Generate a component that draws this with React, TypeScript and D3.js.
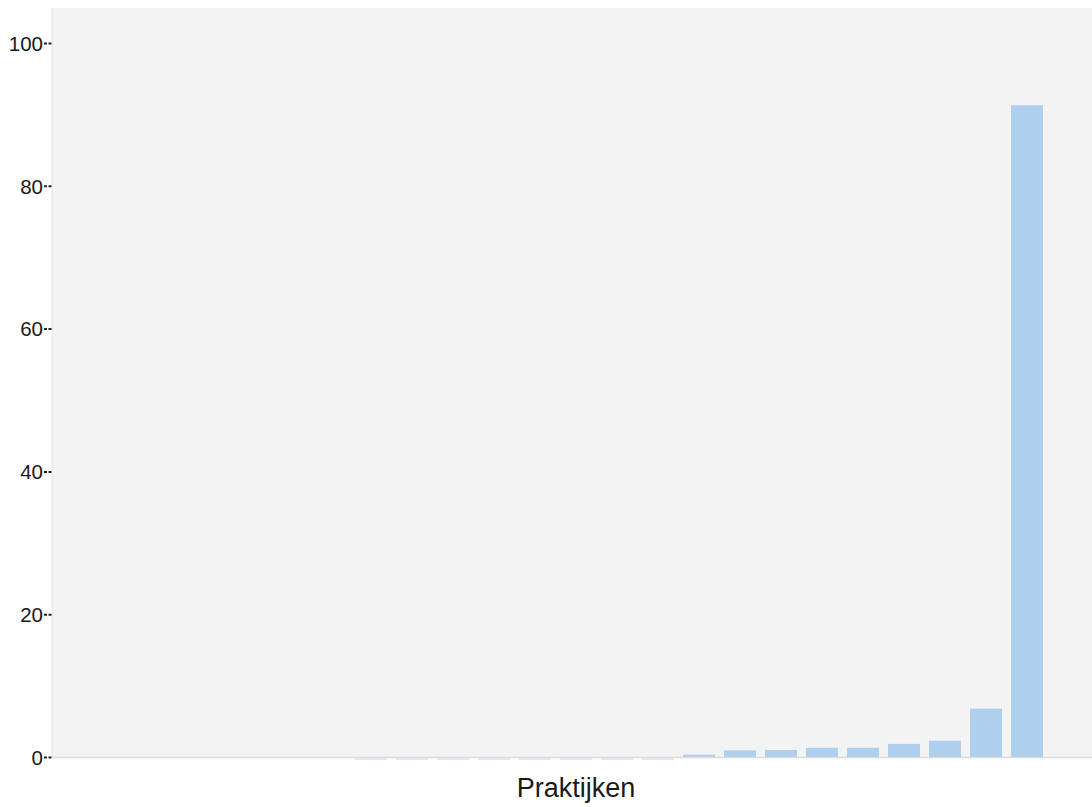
import React from "react";
import * as d3 from "d3";

const categories: string[] = [
  "P1", "P2", "P3", "P4", "P5", "P6", "P7", "P8", "P9", "P10",
  "P11", "P12", "P13", "P14", "P15", "P16", "P17", "P18", "P19", "P20",
  "P21", "P22", "P23", "P24", "P25",
];
// null = no mark, 0 = zero bar
const values: (number | null)[] = [
  null, null, null, null, null, null, null,
  0, 0, 0, 0, 0, 0, 0, 0,
  0.4, 1.0, 1.05, 1.35, 1.35, 1.9, 2.35, 6.85, 91.35,
  null,
];
const yTicks: number[] = [0, 20, 40, 60, 80, 100];
const xTitle = "Praktijken";

const W = 1092;
const H = 807;
const plotLeft = 52;
const plotRight = 1100;
const plotTop = 8;
const baseY = 757.5;

export default function App() {
  const x = d3
    .scaleBand<string>()
    .domain(categories)
    .range([plotLeft, plotRight])
    .paddingInner(0.22)
    .paddingOuter(0.39);
  const y = d3.scaleLinear().domain([0, 100]).range([baseY, baseY - 714]);

  return (
    <svg
      width={W}
      height={H}
      style={{ position: "absolute", left: 0, top: 0, display: "block" }}
      fontFamily="'Liberation Sans', Arial, sans-serif"
    >
      <rect x={0} y={0} width={W} height={H} fill="#ffffff" />
      <rect
        x={plotLeft}
        y={plotTop}
        width={plotRight - plotLeft}
        height={baseY - plotTop}
        fill="#f3f3f3"
      />
      <line
        x1={plotLeft}
        x2={plotLeft}
        y1={plotTop}
        y2={baseY}
        stroke="#e4e4e4"
        strokeWidth={1}
      />
      {categories.map((c, i) => {
        const v = values[i];
        if (v === null) return null;
        const bx = x(c)!;
        const bw = x.bandwidth();
        if (v === 0) {
          return (
            <rect key={c} x={bx} y={baseY + 0.5} width={bw} height={2} fill="#dfeaf8" />
          );
        }
        return (
          <rect
            key={c}
            x={bx}
            y={y(v)}
            width={bw}
            height={baseY - y(v)}
            fill="#aecfee"
          />
        );
      })}
      <line
        x1={plotLeft}
        x2={W}
        y1={baseY}
        y2={baseY}
        stroke="#dcdcdc"
        strokeWidth={1.5}
      />
      {yTicks.map((t) => (
        <g key={t}>
          <line
            x1={44}
            x2={plotLeft}
            y1={y(t)}
            y2={y(t)}
            stroke="#222"
            strokeWidth={2}
            strokeDasharray="3,1.5"
          />
          <text
            x={43}
            y={y(t)}
            dy="0.36em"
            textAnchor="end"
            fontSize={20.5}
            fill="#1a1a1a"
          >
            {t}
          </text>
        </g>
      ))}
      <text
        x={(plotLeft + plotRight) / 2}
        y={797}
        textAnchor="middle"
        fontSize={27}
        fill="#1a1a1a"
      >
        {xTitle}
      </text>
    </svg>
  );
}
